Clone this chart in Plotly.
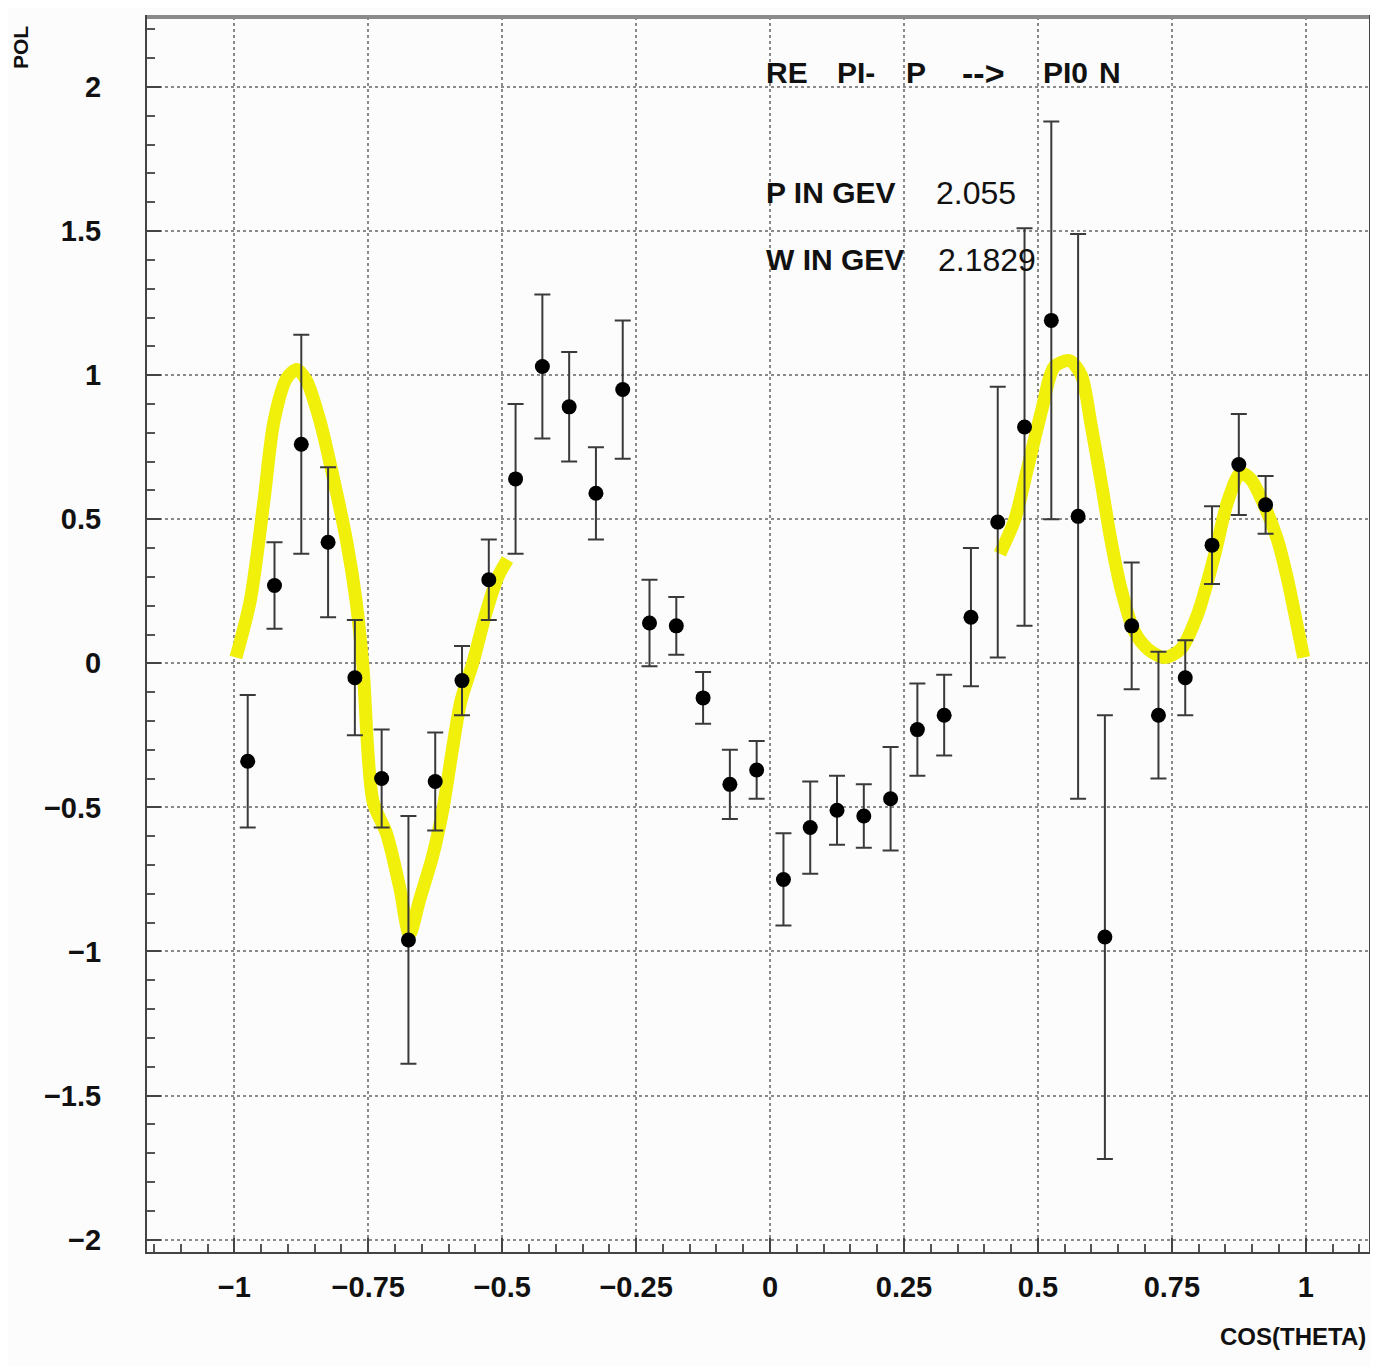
import plotly.graph_objects as go

# ---- data ----
cos_theta = [-0.975, -0.925, -0.875, -0.825, -0.775, -0.725, -0.675, -0.625, -0.575, -0.525,
             -0.475, -0.425, -0.375, -0.325, -0.275, -0.225, -0.175, -0.125, -0.075, -0.025,
             0.025, 0.075, 0.125, 0.175, 0.225, 0.275, 0.325, 0.375, 0.425, 0.475,
             0.525, 0.575, 0.625, 0.675, 0.725, 0.775, 0.825, 0.875, 0.925]
pol = [-0.34, 0.27, 0.76, 0.42, -0.05, -0.40, -0.96, -0.41, -0.06, 0.29,
       0.64, 1.03, 0.89, 0.59, 0.95, 0.14, 0.13, -0.12, -0.42, -0.37,
       -0.75, -0.57, -0.51, -0.53, -0.47, -0.23, -0.18, 0.16, 0.49, 0.82,
       1.19, 0.51, -0.95, 0.13, -0.18, -0.05, 0.41, 0.69, 0.55]
pol_err = [0.23, 0.15, 0.38, 0.26, 0.20, 0.17, 0.43, 0.17, 0.12, 0.14,
           0.26, 0.25, 0.19, 0.16, 0.24, 0.15, 0.10, 0.09, 0.12, 0.10,
           0.16, 0.16, 0.12, 0.11, 0.18, 0.16, 0.14, 0.24, 0.47, 0.69,
           0.69, 0.98, 0.77, 0.22, 0.22, 0.13, 0.135, 0.175, 0.10]

# yellow highlighted curve, two pieces
curve1_x = [-0.997, -0.97, -0.945, -0.926, -0.902, -0.883, -0.865, -0.84, -0.816, -0.79,
            -0.773, -0.76, -0.741, -0.716, -0.691, -0.673, -0.654, -0.63, -0.611, -0.593,
            -0.577, -0.555, -0.531, -0.508, -0.49]
curve1_y = [0.02, 0.22, 0.56, 0.84, 0.99, 1.02, 0.98, 0.84, 0.65, 0.42,
            0.22, -0.01, -0.48, -0.59, -0.78, -0.94, -0.82, -0.67, -0.51, -0.30,
            -0.13, 0.0, 0.17, 0.30, 0.36]
curve2_x = [0.429, 0.457, 0.481, 0.506, 0.531, 0.559, 0.581, 0.599, 0.618, 0.636,
            0.655, 0.68, 0.705, 0.736, 0.767, 0.798, 0.829, 0.854, 0.878, 0.897,
            0.922, 0.947, 0.965, 0.984, 0.996]
curve2_y = [0.38, 0.50, 0.68, 0.87, 1.03, 1.05, 1.0, 0.83, 0.63, 0.43,
            0.26, 0.11, 0.05, 0.02, 0.05, 0.17, 0.37, 0.56, 0.66, 0.64,
            0.55, 0.43, 0.30, 0.13, 0.02]

x_ticks = [-1, -0.75, -0.5, -0.25, 0, 0.25, 0.5, 0.75, 1]
x_tick_labels = ["−1", "−0.75", "−0.5", "−0.25", "0", "0.25", "0.5", "0.75", "1"]
y_ticks = [-2, -1.5, -1, -0.5, 0, 0.5, 1, 1.5, 2]
y_tick_labels = ["−2", "−1.5", "−1", "−0.5", "0", "0.5", "1", "1.5", "2"]

YELLOW = "rgb(240,240,10)"
FONT = "Liberation Sans, Arial, sans-serif"

fig = go.Figure()
for cx, cy in ((curve1_x, curve1_y), (curve2_x, curve2_y)):
    fig.add_trace(go.Scatter(x=cx, y=cy, mode="lines",
                             line=dict(color=YELLOW, width=13, shape="spline", smoothing=0.8),
                             hoverinfo="skip", showlegend=False))

fig.add_trace(go.Scatter(
    x=cos_theta, y=pol, mode="markers",
    marker=dict(color="black", size=15),
    error_y=dict(type="data", array=pol_err, visible=True, color="#3a3a3a",
                 thickness=2, width=8),
    showlegend=False))

fig.update_layout(
    width=1370, height=1358,
    margin=dict(l=139, r=8, t=7, b=114),
    paper_bgcolor="#fcfcfc", plot_bgcolor="#fcfcfc",
    font=dict(family=FONT, color="#111"),
    showlegend=False,
    xaxis=dict(range=[-1.163, 1.118], tickmode="array", tickvals=x_ticks, ticktext=x_tick_labels,
               tickfont=dict(size=29, family=FONT, weight="bold"),
               showgrid=True, gridcolor="#8a8a8a", griddash="dot", gridwidth=1.5,
               zeroline=False, showline=True, linecolor="#444", linewidth=2, mirror=True,
               ticks="inside", ticklen=14, tickcolor="#444", tickwidth=1.5,
               minor=dict(dtick=0.05, tick0=0, ticks="inside", ticklen=8, tickcolor="#555", showgrid=False),
               ticklabelstandoff=8),
    yaxis=dict(range=[-2.043, 2.243], tickmode="array", tickvals=y_ticks, ticktext=y_tick_labels,
               tickfont=dict(size=29, family=FONT, weight="bold"),
               showgrid=True, gridcolor="#8a8a8a", griddash="dot", gridwidth=1.5,
               zeroline=False, showline=True, linecolor="#444", linewidth=2, mirror=True,
               ticks="inside", ticklen=14, tickcolor="#444", tickwidth=1.5,
               minor=dict(dtick=0.1, tick0=0, ticks="inside", ticklen=8, tickcolor="#555", showgrid=False),
               ticklabelstandoff=38),
)

# thicker grey top border like the reference
fig.add_shape(type="line", xref="paper", yref="paper", x0=0, x1=1, y0=1, y1=1,
              line=dict(color="#8a8a8a", width=4))


def px_x(p):
    return (p - 147) / 1223.0


def px_y(p):
    return (1252 - p) / 1237.0


def label(text, xp, yp, size=30, bold=True, anchor="left"):
    fig.add_annotation(xref="paper", yref="paper", x=px_x(xp), y=px_y(yp),
                       xanchor=anchor, yanchor="middle", text=text, showarrow=False,
                       font=dict(family=FONT, size=size, color="#111",
                                 weight="bold" if bold else "normal"))


# reaction label, placed word by word as in the reference
label("RE", 765, 71)
label("PI-", 836, 71)
label("P", 905, 71)
label("-->", 984, 71, size=34, anchor="center")
label("PI0", 1042, 71)
label("N", 1098, 71)

label("P IN GEV", 765, 191)
label("2.055", 935, 191, size=32, bold=False)
label("W IN GEV", 765, 258)
label("2.1829", 937, 258, size=32, bold=False)

label("COS(THETA)", 1369, 1337, size=24, anchor="right")

fig.add_annotation(xref="paper", yref="paper", x=px_x(21), y=px_y(46), xanchor="center",
                   yanchor="middle", text="POL", textangle=-90, showarrow=False,
                   font=dict(family=FONT, size=21, color="#111", weight="bold"))

fig.write_html("out.html")
